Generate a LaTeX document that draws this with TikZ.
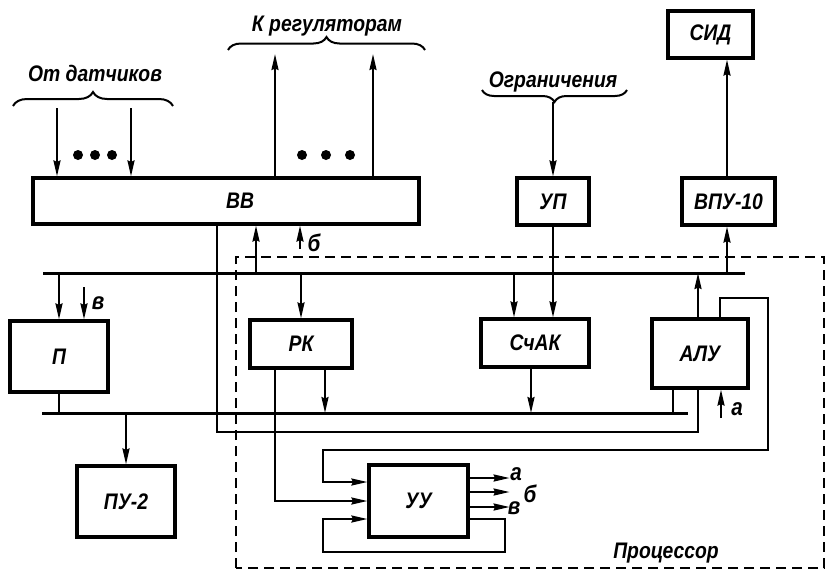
\documentclass[tikz,border=0pt]{standalone}
\usepackage{fontspec}
\setmainfont[FakeStretch=0.86]{Liberation Sans}
\usetikzlibrary{arrows.meta,decorations.pathreplacing}
\newcommand\gfont{\fontsize{22.5}{26}\selectfont\bfseries\itshape}
\newcommand\sfont{\fontsize{24}{28}\selectfont\bfseries\itshape}
\begin{document}
\begin{tikzpicture}[x=1pt,y=-1pt,
  blk/.style={draw, line width=3.2pt, inner sep=0pt, font=\gfont},
  arr/.style={line width=2.1pt, -{Stealth[length=16pt,width=7pt,inset=1.5pt]}},
  ln/.style={line width=2.1pt},
  bus/.style={line width=3pt},
  brc/.style={line width=2pt, decorate, decoration={brace, amplitude=#1}},
  dsh/.style={line width=2.2pt, dash pattern=on 10pt off 6pt},
  txt/.style={font=\gfont, inner sep=0pt},
  sml/.style={font=\sfont, inner sep=0pt},
  dot/.style={fill=black, circle, inner sep=0pt, minimum size=10pt}]
\useasboundingbox (0,0) rectangle (826,570);

% boxes
\node[blk, minimum width=386pt, minimum height=46pt] (bb) at (226,201) {};
\node[txt] (bbt) at (240,201) {ВВ};
\node[blk, minimum width=85pt, minimum height=47pt] (sid) at (710.5,34.5) {СИД};
\node[blk, minimum width=72pt, minimum height=47pt] (up) at (553,201.5) {УП};
\node[blk, minimum width=93pt, minimum height=47pt] (vpu) at (728.5,201.5) {ВПУ-10};
\node[blk, minimum width=98pt, minimum height=71pt] (p) at (59,356.5) {П};
\node[blk, minimum width=102pt, minimum height=48pt] (rk) at (301,344) {РК};
\node[blk, minimum width=108pt, minimum height=48pt] (schak) at (535,343) {СчАК};
\node[blk, minimum width=96pt, minimum height=69pt] (alu) at (700,353.5) {АЛУ};
\node[blk, minimum width=98pt, minimum height=71pt] (pu2) at (126,501.5) {ПУ-2};
\node[blk, minimum width=99pt, minimum height=72pt] (uu) at (418.5,501) {УУ};

% texts
\node[txt, anchor=base] (t1) at (95,81) {От датчиков};
\node[txt, anchor=base] (t2) at (327,31) {К регуляторам};
\node[txt, anchor=base] (t3) at (553,87) {Ограничения};
\node[txt, anchor=base] (t4) at (666,558) {Процессор};

% braces
\draw[brc=14pt] (13,106) -- (173,106);
\draw[brc=13pt] (228,50) -- (425,50);
\draw[brc=12pt] (627,90) -- (482,90);

% dots
\foreach \i/\xx in {1/78,2/95,3/112,4/302,5/326,6/350}
  \node[dot] (d\i) at (\xx,155) {};

% buses
\coordinate (b1l) at (43,273);
\coordinate (b1r) at (745,273);
\coordinate (b2l) at (42,413);
\coordinate (b2r) at (688,413);
\draw[bus] (b1l) -- (b1r);
\draw[bus] (b2l) -- (b2r);

% processor frame
\coordinate (pf1) at (236,568);
\coordinate (pf2) at (824,257);
\draw[dsh] (pf1) |- (pf2) |- (pf1);

% inputs from sensors
\coordinate (s1) at (57,108);
\coordinate (s2) at (131,108);
\draw[arr] (s1) -- (s1 |- bb.north);
\draw[arr] (s2) -- (s2 |- bb.north);
% to regulators
\coordinate (r1) at (275,54);
\coordinate (r2) at (373,54);
\draw[arr] (r1 |- bb.north) -- (r1);
\draw[arr] (r2 |- bb.north) -- (r2);
% limits
\coordinate (lim) at (553,102);
\draw[arr] (lim) -- (up.north);
% VPU to SID
\coordinate (vx) at (727,0);
\draw[arr] (vx |- vpu.north) -- (vx |- sid.south);
\draw[arr] (vx |- b1l) -- (vx |- vpu.south);

% BB links
\coordinate (j1) at (256,273);
\draw[arr] (j1) -- (j1 |- bb.south);
\coordinate (bin) at (300,249);
\draw[arr] (bin) -- (bin |- bb.south);
\node[sml] (lb1) at (314,243) {б};
\coordinate (lp) at (217,432);
\draw[ln] ([xshift=-2pt]alu.south) |- (lp) -- (lp |- bb.south);

% P and PU-2
\draw[arr] (p.north |- b1l) -- (p.north);
\coordinate (vin) at (84,287);
\draw[arr] (vin) -- (vin |- p.north);
\node[sml] (lv1) at (98,303) {в};
\draw[ln] (p.south) -- (p.south |- b2l);
\draw[arr] (pu2.north |- b2l) -- (pu2.north);

% RK
\draw[arr] (rk.north |- b1l) -- (rk.north);
\draw[arr] ([xshift=24pt]rk.south) -- ([xshift=24pt]rk.south |- b2l);
\draw[arr] ([xshift=-26pt]rk.south) |- (uu.west);

% SchAK
\draw[arr] ([xshift=-21pt]schak.north |- b1l) -- ([xshift=-21pt]schak.north);
\draw[arr] (up.south) -- (up.south |- schak.north);
\draw[arr] ([xshift=-4pt]schak.south) -- ([xshift=-4pt]schak.south |- b2l);

% ALU
\draw[arr] ([xshift=-2pt]alu.north) -- ([xshift=-2pt]alu.north |- b1l);
\draw[ln] ([xshift=-27pt]alu.south) -- ([xshift=-27pt]alu.south |- b2l);
\coordinate (ain) at (721,418);
\draw[arr] (ain) -- (ain |- alu.south);
\node[sml] (la1) at (737,409) {а};
\coordinate (fb1) at (768,298);
\coordinate (fb2) at (323,450);
\draw[arr] ([xshift=20pt]alu.north) |- (fb1) |- (fb2) |- ([yshift=19pt]uu.west);

% UU
\coordinate (lr) at (505,552);
\coordinate (ll) at (323,552);
\draw[arr] ([yshift=-18pt]uu.east) -| (lr) -- (ll) |- ([yshift=-18pt]uu.west);
\draw[arr] ([yshift=23pt]uu.east) -- ++(40,0) coordinate (o1);
\draw[arr] ([yshift=9pt]uu.east) -- ++(40,0) coordinate (o2);
\draw[arr] ([yshift=-6pt]uu.east) -- ++(40,0) coordinate (o3);
\node[sml] (lo1) at (516,474) {а};
\node[sml] (lo2) at (530,494) {б};
\node[sml] (lo3) at (514,508) {в};
\end{tikzpicture}
\end{document}
